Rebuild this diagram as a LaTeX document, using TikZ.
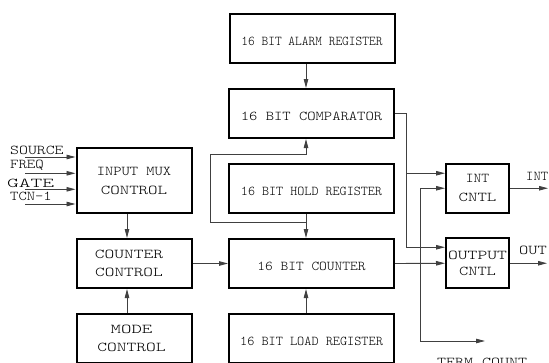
\documentclass[tikz,border=0pt]{standalone}
\usepackage{fontspec}
\usepackage{graphicx}
\usetikzlibrary{arrows.meta,calc}
\newcommand{\cour}{\ttfamily\fontseries{l}\selectfont}
\newcommand{\tx}[2]{\scalebox{\fpeval{#1*1.185}}[1]{#2}}
\newcommand{\lw}[1]{\raisebox{-3pt}[\height][\depth]{#1}}
\tikzset{
  box/.style={draw, line width=2pt, inner sep=0pt, align=center},
  wire/.style={draw=black!75, line width=0.9pt},
  arr/.style={wire, -{Triangle[length=9pt,width=4.5pt]}},
  lbl/.style={inner sep=0pt, anchor=base west},
}
\begin{document}
\begin{tikzpicture}[x=1pt,y=-1pt, font=\fontsize{13.5}{19}\cour]
\useasboundingbox (0,0) rectangle (549,362);
% middle column
\node[box, minimum width=165pt, minimum height=49pt] (alarm) at (312,38.5) {\lw{\tx{0.80}{16 BIT ALARM REGISTER}}};
\node[box, minimum width=165pt, minimum height=49pt] (comp) at (311.5,113.5) {\lw{\tx{0.99}{16 BIT COMPARATOR}}};
\node[box, minimum width=165pt, minimum height=49pt] (hold) at (311.5,188.5) {\lw{\tx{0.84}{16 BIT HOLD REGISTER}}};
\node[box, minimum width=165pt, minimum height=49pt] (counter) at (311.5,263.5) {\lw{\tx{0.92}{16 BIT COUNTER}}};
\node[box, minimum width=165pt, minimum height=49pt] (load) at (311.5,338.5) {\lw{\tx{0.85}{16 BIT LOAD REGISTER}}};
% left column
\node[box, minimum width=115pt, minimum height=65pt] (mux) at (134,180.5) {\tx{0.985}{INPUT MUX}\\\tx{1.13}{CONTROL}};
\node[box, minimum width=115pt, minimum height=49pt, font=\fontsize{13.5}{18.5}\cour] (cc) at (134,263.5) {\tx{1.16}{COUNTER}\hspace*{10pt}\\\tx{1.15}{CONTROL}\hspace*{10pt}};
\node[box, minimum width=115pt, minimum height=49pt, font=\fontsize{13.5}{18.5}\cour] (mode) at (134,338.5) {\tx{1.24}{MODE}\hspace*{5pt}\\\tx{1.16}{CONTROL}\hspace*{5pt}};
% right column
\node[box, minimum width=63pt, minimum height=49.5pt] (intc) at (477.5,188.25) {\tx{0.93}{INT}\\\tx{1.12}{CNTL}};
\node[box, minimum width=63pt, minimum height=50pt, font=\fontsize{13.5}{16}\cour] (outc) at (477.5,263.25) {\tx{1.17}{OUTPUT}\\\tx{1.10}{CNTL}};
% helper coordinates
\coordinate (cx) at (306,0);
\coordinate (lx) at (127,0);
\coordinate (v1) at (406,0);
\coordinate (v2) at (420,0);
\coordinate (j1) at (306,222);
\coordinate (lp1) at (210,222);
\coordinate (lp2) at (210,154);
\coordinate (oin1) at ($(outc.west)+(0,-16)$);
\coordinate (iin1) at ($(intc.west)+(0,-15)$);
\coordinate (tc) at (485,341);
\coordinate (io) at (548,188.25);
\coordinate (oo) at (547,263.25);
\coordinate (s1) at (25,157);
\coordinate (s2) at (25,173.3);
\coordinate (s3) at (25,189.3);
\coordinate (s4) at (25,204);
% input signals
\node[lbl] (lsrc) at (10,154) {\tx{1.06}{SOURCE}};
\node[lbl] (lfrq) at (10,168.5) {\tx{1.0}{FREQ}};
\node[lbl] (lgat) at (7,187) {\tx{1.4}{GATE}};
\node[lbl] (ltcn) at (10,200.5) {\tx{0.99}{TCN-1}};
\draw[arr] (s1) -- (s1 -| mux.west);
\draw[arr] (s2) -- (s2 -| mux.west);
\draw[arr] (s3) -- (s3 -| mux.west);
\draw[arr] (s4) -- (s4 -| mux.west);
% left column arrows
\draw[arr] (mux.south -| lx) -- (cc.north -| lx);
\draw[arr] (mode.north -| lx) -- (cc.south -| lx);
\draw[arr] (cc.east) -- (counter.west);
% middle column arrows
\draw[arr] (alarm.south -| cx) -- (comp.north -| cx);
\draw[arr] (hold.south -| cx) -- (counter.north -| cx);
\draw[arr] (j1) -- (lp1) -- (lp2) -| (comp.south -| cx);
\draw[arr] (load.north -| cx) -- (counter.south -| cx);
% right side
\draw[arr] (comp.east) -| (v1 |- oin1) -- (oin1);
\draw[arr] (v1 |- iin1) -- (iin1);
\draw[arr] (counter.east) -- (outc.west);
\draw[arr] (v2 |- counter.east) |- (intc.west);
\draw[arr] (v2 |- counter.east) |- (tc);
\draw[arr] (intc.east) -- (io);
\draw[arr] (outc.east) -- (oo);
\node[lbl] (intl) at (526,180.5) {\tx{0.87}{INT}};
\node[lbl] (outl) at (519,254) {\tx{1.1}{OUT}};
\node[lbl] (tcl) at (437,366) {\tx{1.07}{TERM COUNT}};
\end{tikzpicture}
\end{document}
